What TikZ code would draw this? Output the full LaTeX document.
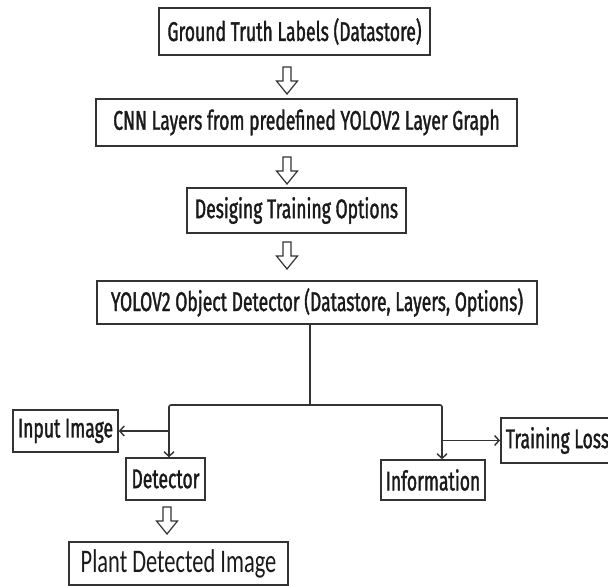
\documentclass[tikz,border=0pt]{standalone}
\usepackage{fontspec}
\usetikzlibrary{arrows.meta,calc}
\newfontfamily\dinfont[FakeStretch=0.65,FakeBold=1.3]{Fira Sans}
\newfontfamily\calfont[FakeStretch=0.68]{Carlito}
\definecolor{boxc}{HTML}{333333}
\definecolor{txtc}{HTML}{1A1A1A}
\tikzset{
  box/.style={draw=boxc, line width=1.6pt, inner sep=0pt, text=txtc,
    font=\dinfont\fontsize{27}{30}\selectfont},
  conn/.style={draw=boxc, line width=1.6pt},
  tip/.style={-{Straight Barb[length=4.5pt,width=10pt,line width=1.4pt]}},
  hollow/.pic={\draw[draw=boxc, line width=1.2pt, fill=white]
     (-4,-13) -- (-4,1) -- (-10.5,1) -- (0,14) -- (10.5,1) -- (4,1) -- (4,-13) -- cycle;}
}
\begin{document}
\begin{tikzpicture}[x=1pt,y=-1pt]
\useasboundingbox (0,0) rectangle (608,586);
\fill[white] (0,0) rectangle (608,586);
\clip (0,0) rectangle (608,586);
\node[box, minimum width=271pt, minimum height=47pt] (b1) at (294.5,31.5) {Ground Truth Labels (Datastore)};
\node[box, minimum width=421pt, minimum height=47pt] (b2) at (306.5,122.5) {CNN Layers from predefined YOLOV2 Layer Graph};
\node[box, minimum width=219pt, minimum height=45pt] (b3) at (296.5,210.5) {Desiging Training Options};
\node[box, minimum width=440pt, minimum height=43pt] (b4) at (317,302.5) {YOLOV2 Object Detector (Datastore, Layers, Options)};
\node[box, minimum width=105pt, minimum height=42pt] (inp) at (65.5,431) {Input Image};
\node[box, minimum width=79pt, minimum height=42pt] (det) at (165.5,479) {Detector};
\node[box, minimum width=104pt, minimum height=40pt] (info) at (433,480) {Information};
\node[box, anchor=west, minimum height=45pt, inner xsep=5pt] (loss) at (500,440.5) {Training Loss\hspace{20pt}};
\node[box, minimum width=219pt, minimum height=43pt, font=\calfont\fontsize{33}{36}\selectfont] (plant) at (178.5,563.5) {Plant Detected Image};
\pic (a1) at (287,80) {hollow};
\pic (a2) at (287,170) {hollow};
\pic (a3) at (287,255) {hollow};
\pic (a4) at (167,520) {hollow};
\coordinate (jc) at (310,405);
\coordinate (jl) at (169,405);
\coordinate (jr) at (442,405);
\draw[conn] (jc |- b4.south) -- (jc);
\draw[conn, rounded corners=2pt, tip] (jc) -- (jl) -- (jl |- det.north);
\draw[conn, rounded corners=2pt, tip] (jc) -- (jr) -- (jr |- info.north);
\draw[conn, tip] (jl |- inp.east) -- (inp.east);
\draw[conn, tip] (jr |- loss.west) -- (loss.west);
\end{tikzpicture}
\end{document}
